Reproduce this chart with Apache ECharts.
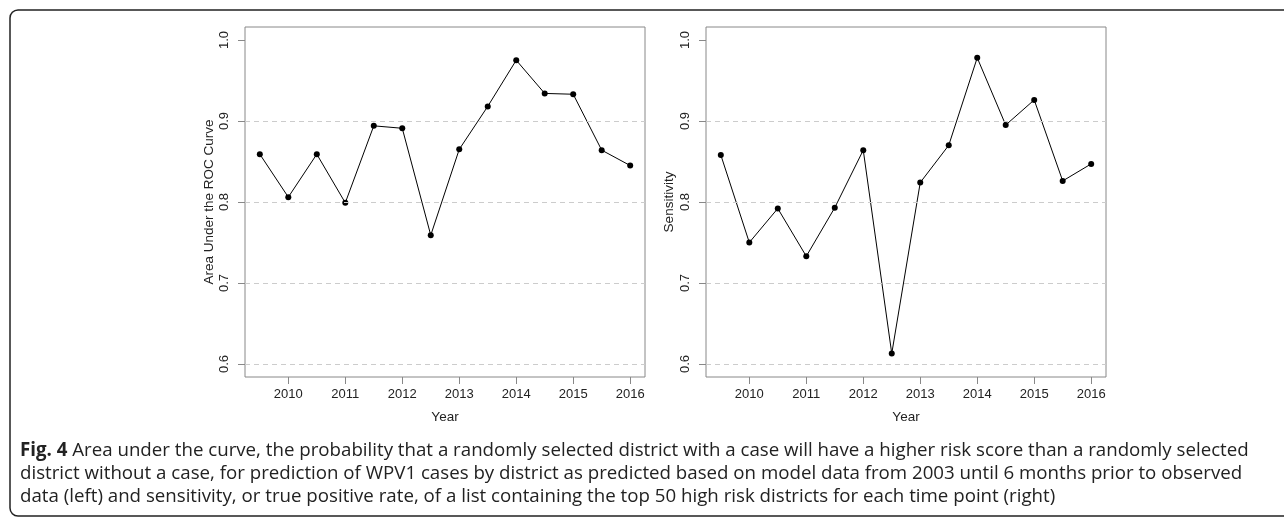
<!DOCTYPE html>
<html><head><meta charset="utf-8">
<script src="https://cdn.jsdelivr.net/npm/echarts@6/dist/echarts.min.js"></script>
<style>html,body{margin:0;padding:0;background:#fff}#c{width:1284px;height:519px}</style>
</head><body><div id="c"></div>
<script>
const years = [2009.5, 2010, 2010.5, 2011, 2011.5, 2012, 2012.5, 2013, 2013.5, 2014, 2014.5, 2015, 2015.5, 2016];
const aucValues = [0.859, 0.806, 0.859, 0.799, 0.894, 0.891, 0.759, 0.865, 0.918, 0.975, 0.934, 0.933, 0.864, 0.845];
const sensValues = [0.858, 0.750, 0.792, 0.733, 0.793, 0.864, 0.613, 0.824, 0.870, 0.978, 0.895, 0.926, 0.826, 0.847];
const xTickLabels = [2010, 2011, 2012, 2013, 2014, 2015, 2016];
const yTickLabels = [0.6, 0.7, 0.8, 0.9, 1.0];
const gridLevels = [0.6, 0.7, 0.8, 0.9];
const leftYTitle = 'Area Under the ROC Curve';
const rightYTitle = 'Sensitivity';
const xTitle = 'Year';
const captionBold = 'Fig. 4';
const captionLines = [
  ' Area under the curve, the probability that a randomly selected district with a case will have a higher risk score than a randomly selected',
  'district without a case, for prediction of WPV1 cases by district as predicted based on model data from 2003 until 6 months prior to observed',
  'data (left) and sensitivity, or true positive rate, of a list containing the top 50 high risk districts for each time point (right)'
];

const FONT = 'Liberation Sans, Arial, sans-serif';
const CAP_FONT = 'Open Sans, sans-serif';
const CAP_SIZE = 18.7;
const TICK_SIZE = 13;
const TITLE_SIZE = 13.5;
const chart = echarts.init(document.getElementById('c'), null, {renderer: 'canvas'});

function xAxis(gi) {
  return {
    type: 'value', gridIndex: gi, min: 2009.24, max: 2016.26,
    name: xTitle, nameLocation: 'middle', nameGap: 33,
    nameTextStyle: {fontFamily: FONT, fontSize: TITLE_SIZE, color: '#222'},
    axisLine: {show: false},
    axisTick: {show: true, length: 7, lineStyle: {color: '#888'}, customValues: xTickLabels},
    axisLabel: {fontFamily: FONT, fontSize: TICK_SIZE, color: '#222', margin: 11, customValues: xTickLabels, formatter: v => String(v)},
    splitLine: {show: false}
  };
}
function yAxis(gi, title, gap) {
  return {
    type: 'value', gridIndex: gi, min: 0.584, max: 1.016,
    name: title, nameLocation: 'middle', nameGap: gap, nameRotate: 90,
    nameTextStyle: {fontFamily: FONT, fontSize: TITLE_SIZE, color: '#222'},
    axisLine: {show: false},
    axisTick: {show: true, length: 7, lineStyle: {color: '#888'}, customValues: yTickLabels},
    axisLabel: {fontFamily: FONT, fontSize: TICK_SIZE, color: '#222', rotate: 90, margin: 14, customValues: yTickLabels, formatter: v => v.toFixed(1)},
    splitLine: {show: false}
  };
}
function series(idx, vals) {
  return {
    type: 'line', xAxisIndex: idx, yAxisIndex: idx,
    data: years.map((y, i) => [y, vals[i]]),
    symbol: 'circle', symbolSize: 6, showSymbol: true,
    itemStyle: {color: '#000'}, lineStyle: {color: '#000', width: 1},
    markLine: {
      silent: true, symbol: 'none', label: {show: false},
      lineStyle: {type: [5, 4], color: '#ccc', width: 1},
      data: gridLevels.map(v => ({yAxis: v}))
    },
    z: 3
  };
}

chart.setOption({
  animation: false,
  backgroundColor: '#fff',
  grid: [
    {left: 245, right: 1284 - 645, top: 27, bottom: 519 - 377, show: true, borderColor: '#888', borderWidth: 1, backgroundColor: 'transparent'},
    {left: 706, right: 1284 - 1106, top: 27, bottom: 519 - 377, show: true, borderColor: '#888', borderWidth: 1, backgroundColor: 'transparent'}
  ],
  xAxis: [xAxis(0), xAxis(1)],
  yAxis: [yAxis(0, leftYTitle, 29), yAxis(1, rightYTitle, 30)],
  series: [series(0, aucValues), series(1, sensValues)],
  graphic: [
    {type: 'rect', shape: {x: 10, y: 10, width: 1320, height: 506, r: 8}, style: {fill: 'none', stroke: '#222', lineWidth: 1.5}, silent: true},
    {type: 'text', left: 20, top: 441, style: {
      text: '{b|' + captionBold + '}{n|' + captionLines[0] + '}',
      rich: {b: {fontFamily: CAP_FONT, fontWeight: 'bold', fontSize: CAP_SIZE, fill: '#222'}, n: {fontFamily: CAP_FONT, fontSize: CAP_SIZE, fill: '#222'}}
    }},
    {type: 'text', left: 20, top: 464, style: {text: captionLines[1], fontFamily: CAP_FONT, fontSize: CAP_SIZE, fill: '#222'}},
    {type: 'text', left: 20, top: 487, style: {text: captionLines[2], fontFamily: CAP_FONT, fontSize: CAP_SIZE, fill: '#222'}}
  ]
});
</script></body></html>
